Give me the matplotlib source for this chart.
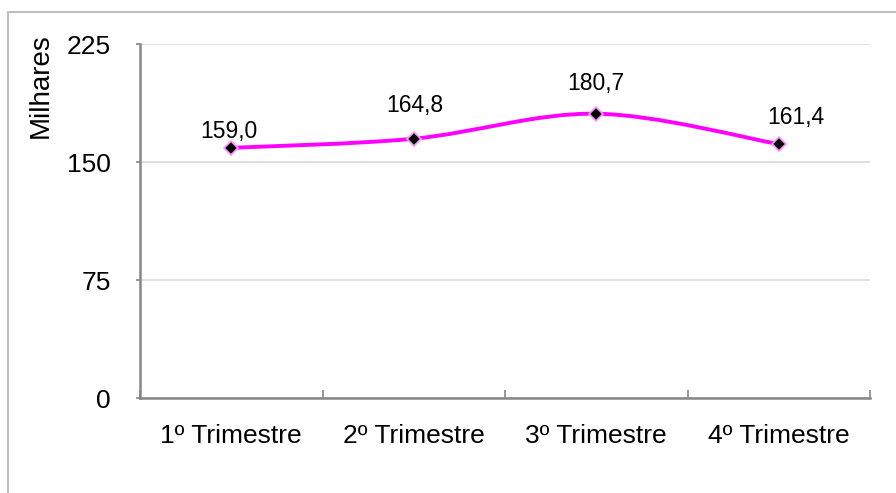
import matplotlib
matplotlib.use("Agg")
import matplotlib.pyplot as plt
from matplotlib.path import Path
from matplotlib.patches import PathPatch, Rectangle

plt.rcParams['font.family'] = ['Liberation Sans', 'DejaVu Sans']

categories = ["1º Trimestre", "2º Trimestre", "3º Trimestre", "4º Trimestre"]
values = [159.0, 164.8, 180.7, 161.4]
labels = ["159,0", "164,8", "180,7", "161,4"]
yticks = [0, 75, 150, 225]

# label offsets in points (style)
label_dx = [-1.5, 0.5, 0, 12.5]
label_dy = [11.5, 24, 22, 19]

fig = plt.figure(figsize=(8.96, 4.93), dpi=100)
fig.patches.append(Rectangle((8/896, -0.1), 1.2, 1 - 12/493 + 0.1, transform=fig.transFigure,
                             fill=False, edgecolor='#c0c0c0', linewidth=1.5))
ax = fig.add_axes([140/896, 1 - 398/493, 730/896, 354/493])

xs = [i + 0.5 for i in range(len(values))]
pts = list(zip(xs, values))
verts = [pts[0]]
codes = [Path.MOVETO]
n = len(pts)
for i in range(n - 1):
    p0 = pts[i - 1] if i > 0 else pts[i]
    p1 = pts[i]
    p2 = pts[i + 1]
    p3 = pts[i + 2] if i + 2 < n else pts[i + 1]
    c1 = (p1[0] + (p2[0] - p0[0]) / 6, p1[1] + (p2[1] - p0[1]) / 6)
    c2 = (p2[0] - (p3[0] - p1[0]) / 6, p2[1] - (p3[1] - p1[1]) / 6)
    verts += [c1, c2, p2]
    codes += [Path.CURVE4] * 3
ax.add_patch(PathPatch(Path(verts, codes), fill=False, edgecolor='#ff00ff', linewidth=2.8,
                       capstyle='round', joinstyle='round', zorder=3))
ax.plot(xs, values, linestyle='none', marker='D', markersize=7.5, markerfacecolor='black',
        markeredgecolor='#ff99ff', markeredgewidth=1.3, zorder=4)

for x, v, t, dx, dy in zip(xs, values, labels, label_dx, label_dy):
    ax.annotate(t, (x, v), xytext=(dx, dy), textcoords='offset points', ha='center', va='center',
                fontsize=16.5, color='black')

ax.set_xlim(0, len(values))
ax.set_ylim(0, 225)
ax.set_yticks(yticks)
ax.set_yticklabels([str(t) for t in yticks], fontsize=19)
ax.yaxis.grid(True, color='#d9d9d9', linewidth=1.2)
ax.set_axisbelow(True)
ax.set_xticks(range(len(values) + 1))
ax.set_xticklabels([])
ax.set_xticks(xs, minor=True)
ax.set_xticklabels(categories, minor=True, fontsize=19)
ax.tick_params(axis='x', which='major', direction='in', length=6, color='#868686', width=1.2)
ax.tick_params(axis='x', which='minor', length=0, pad=19)
ax.tick_params(axis='y', direction='out', length=3, color='#868686', width=1.2, pad=18)
for s in ['top', 'right']:
    ax.spines[s].set_visible(False)
for s in ['left', 'bottom']:
    ax.spines[s].set_color('#868686')
    ax.spines[s].set_linewidth(1.8)

fig.text(41/896, 1 - 86/493, "Milhares", rotation=90, ha='center', va='center', fontsize=20)

fig.savefig("out.png", dpi=100)
